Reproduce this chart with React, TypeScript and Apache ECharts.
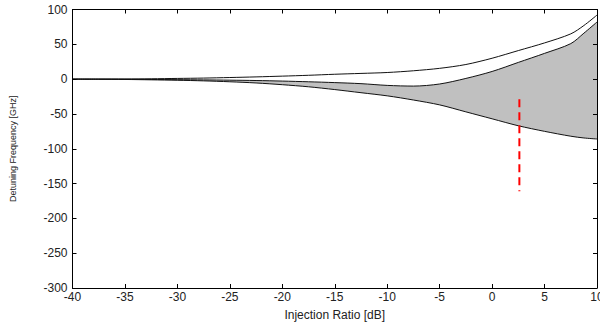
import React, { useEffect, useRef } from "react";
import * as echarts from "echarts";

const xs = [-40, -37.5, -35, -32.5, -30, -27.5, -25, -22.5, -20, -17.5, -15, -12.5, -10, -7.5, -5, -2.5, 0, 2.5, 5, 7.5, 8.75, 10];
const upperCurve = [0, 0, 0.2, 0.5, 1, 1.5, 2.3, 3.2, 4.3, 5.5, 7, 8.2, 9.5, 12, 15.5, 21, 30, 41, 52, 65, 77, 92];
const middleCurve = [0, 0, -0.2, -0.5, -0.8, -1.1, -1.5, -2, -2.8, -3.8, -5, -6.5, -9, -10, -7, 1, 11, 24, 37, 51, 66, 82];
const lowerCurve = [0, -0.2, -0.5, -1, -1.6, -2.5, -3.8, -5.5, -8, -11, -15, -19.5, -24, -30, -37, -47, -57, -67, -75, -82, -84.5, -86];
const markerX = 2.6;
const markerY = [-29, -161];

const xTicks = { min: -40, max: 10, interval: 5 };
const yTicks = { min: -300, max: 100, interval: 50 };

export default function App() {
  const ref = useRef<HTMLDivElement>(null);
  useEffect(() => {
    if (!ref.current) return;
    const chart = echarts.init(ref.current, null, { renderer: "svg" });
    const pairs = (ys: number[]) => xs.map((x, i) => [x, ys[i]]);
    const font = "Liberation Sans, Arial, sans-serif";
    const axisLine = { show: true, onZero: false, lineStyle: { color: "#000", width: 1 } };
    const tick = { show: true, inside: true, length: 4, lineStyle: { color: "#000" } };
    const smooth = 0.3;
    chart.setOption({
      animation: false,
      backgroundColor: "#fff",
      grid: { left: 72.5, right: 3, top: 9.5, bottom: 36, containLabel: false, outerBoundsMode: "none" },
      xAxis: [
        {
          type: "value",
          z: 10,
          ...xTicks,
          axisLine,
          axisTick: tick,
          splitLine: { show: false },
          axisLabel: { color: "#222", fontSize: 12, fontFamily: font, margin: 3 },
          name: "Injection Ratio [dB]",
          nameLocation: "middle",
          nameGap: 21,
          nameTextStyle: { color: "#222", fontSize: 12, fontFamily: font },
        },
        {
          type: "value",
          z: 10,
          position: "top",
          ...xTicks,
          axisLine,
          axisTick: tick,
          splitLine: { show: false },
          axisLabel: { show: false },
        },
      ],
      yAxis: [
        {
          type: "value",
          z: 10,
          ...yTicks,
          axisLine,
          axisTick: tick,
          splitLine: { show: false },
          axisLabel: { color: "#222", fontSize: 12, fontFamily: font, margin: 5 },
          name: "Detuning Frequency [GHz]",
          nameLocation: "middle",
          nameGap: 55,
          nameTextStyle: { color: "#222", fontSize: 9, fontFamily: font },
        },
        {
          type: "value",
          z: 10,
          position: "right",
          ...yTicks,
          axisLine,
          axisTick: tick,
          splitLine: { show: false },
          axisLabel: { show: false },
        },
      ],
      series: [
        {
          type: "line",
          data: pairs(middleCurve),
          smooth,
          symbol: "none",
          lineStyle: { opacity: 0 },
          areaStyle: { color: "#c0c0c0", opacity: 1, origin: "start" },
          silent: true,
          z: 1,
        },
        {
          type: "line",
          data: pairs(lowerCurve),
          smooth,
          symbol: "none",
          lineStyle: { opacity: 0 },
          areaStyle: { color: "#ffffff", opacity: 1, origin: "start" },
          silent: true,
          z: 1,
        },
        {
          type: "line",
          data: pairs(upperCurve),
          smooth,
          symbol: "none",
          lineStyle: { color: "#111", width: 1 },
        },
        {
          type: "line",
          data: pairs(middleCurve),
          smooth,
          symbol: "none",
          lineStyle: { color: "#111", width: 1 },
        },
        {
          type: "line",
          data: pairs(lowerCurve),
          smooth,
          symbol: "none",
          lineStyle: { color: "#111", width: 1 },
        },
        {
          type: "line",
          data: markerY.map((y) => [markerX, y]),
          symbol: "none",
          lineStyle: { color: "#ff0000", width: 2, type: [8, 5] },
        },
      ],
    });
    return () => chart.dispose();
  }, []);
  return (
    <div
      ref={ref}
      style={{ position: "fixed", left: 0, top: 0, width: 600, height: 324, background: "#fff" }}
    />
  );
}
